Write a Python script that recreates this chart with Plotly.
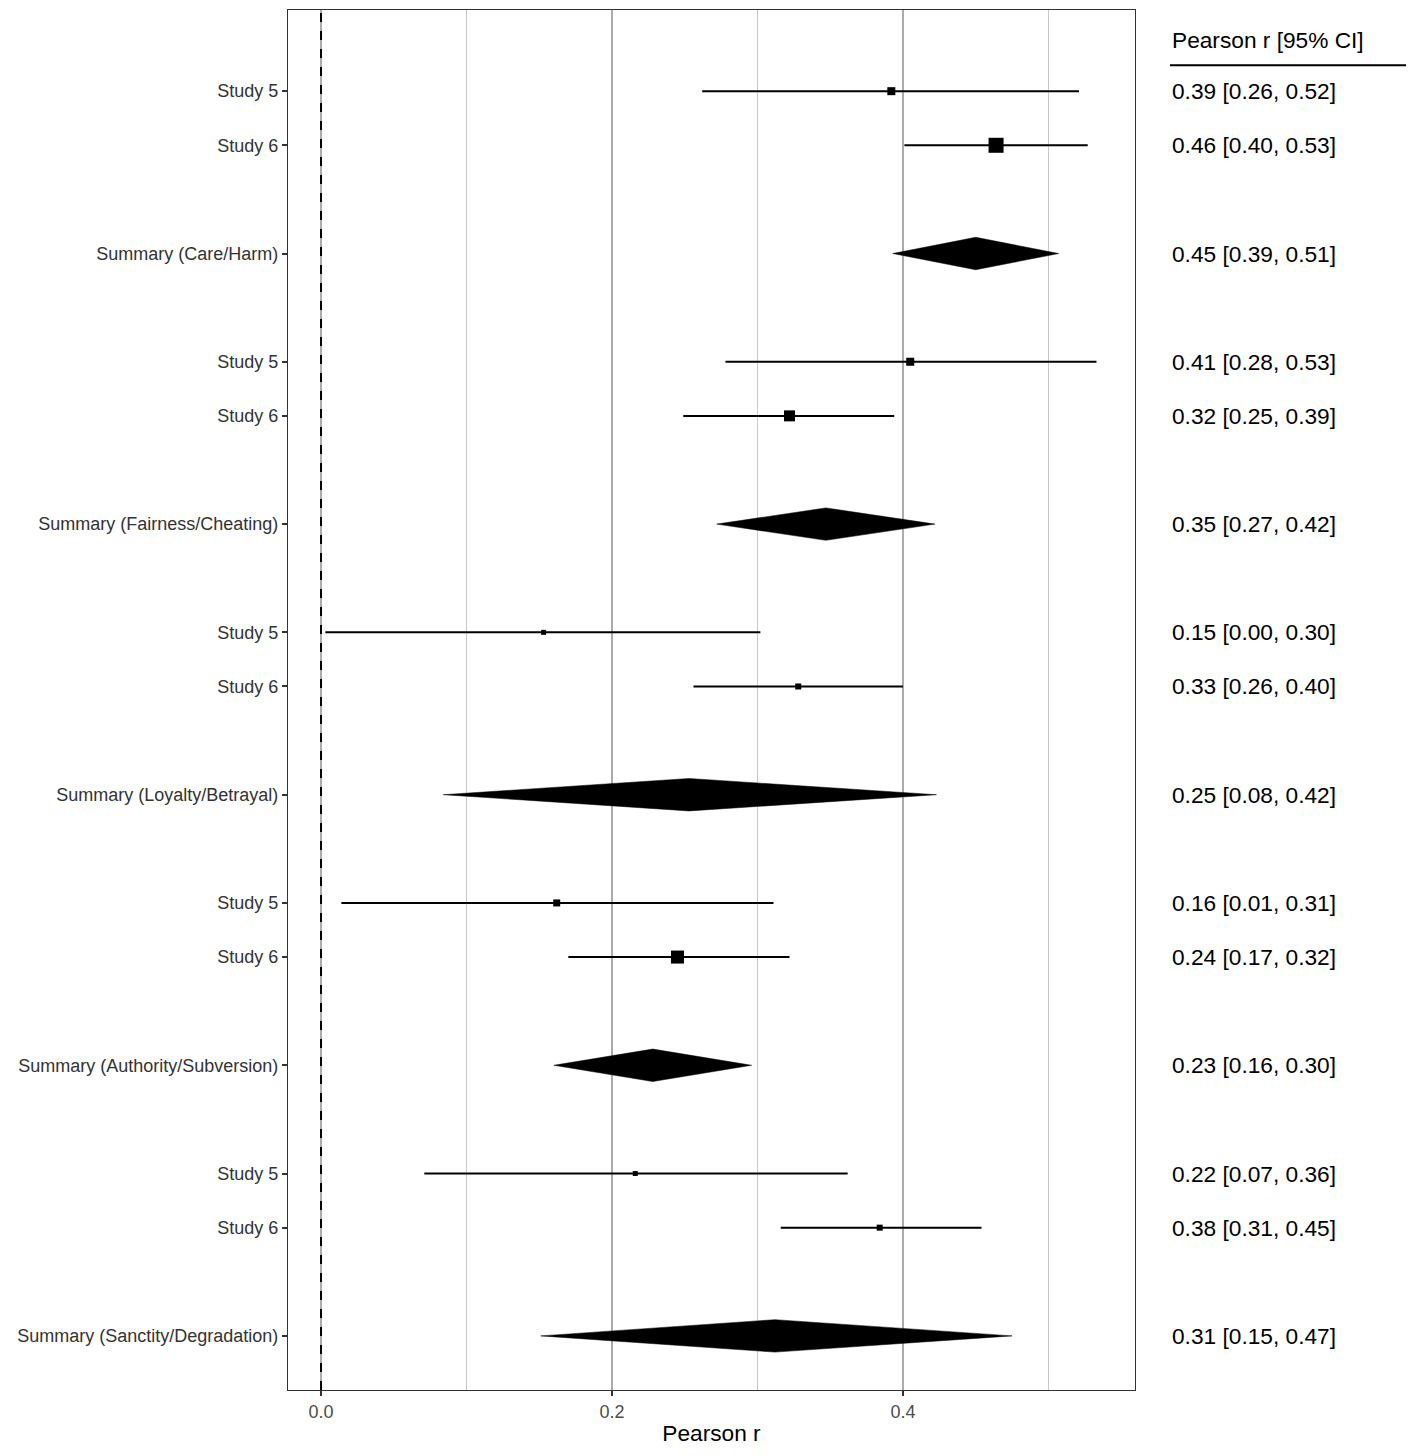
import plotly.graph_objects as go

# study-level rows
study_labels = ["Study 5", "Study 6"] * 5
study_pos = [0, 1, 5, 6, 10, 11, 15, 16, 20, 21]
study_r = [0.392, 0.464, 0.405, 0.322, 0.153, 0.328, 0.162, 0.245, 0.216, 0.384]
study_lo = [0.262, 0.401, 0.278, 0.249, 0.003, 0.256, 0.014, 0.170, 0.071, 0.316]
study_hi = [0.521, 0.527, 0.533, 0.394, 0.302, 0.400, 0.311, 0.322, 0.362, 0.454]
study_size = [8, 15, 8, 11, 5, 6, 7, 13, 5, 6]
study_text = ["0.39 [0.26, 0.52]", "0.46 [0.40, 0.53]", "0.41 [0.28, 0.53]",
              "0.32 [0.25, 0.39]", "0.15 [0.00, 0.30]", "0.33 [0.26, 0.40]",
              "0.16 [0.01, 0.31]", "0.24 [0.17, 0.32]", "0.22 [0.07, 0.36]",
              "0.38 [0.31, 0.45]"]

# summary rows
summary_labels = ["Summary (Care/Harm)", "Summary (Fairness/Cheating)",
                  "Summary (Loyalty/Betrayal)", "Summary (Authority/Subversion)",
                  "Summary (Sanctity/Degradation)"]
summary_pos = [3, 8, 13, 18, 23]
summary_r = [0.450, 0.347, 0.253, 0.228, 0.312]
summary_lo = [0.393, 0.272, 0.084, 0.160, 0.151]
summary_hi = [0.507, 0.422, 0.423, 0.296, 0.475]
summary_text = ["0.45 [0.39, 0.51]", "0.35 [0.27, 0.42]", "0.25 [0.08, 0.42]",
                "0.23 [0.16, 0.30]", "0.31 [0.15, 0.47]"]

FONT = "Liberation Sans, Arial, sans-serif"
fig = go.Figure()

# summary diamonds
h = 0.3
for pos, r, lo, hi in zip(summary_pos, summary_r, summary_lo, summary_hi):
    fig.add_trace(go.Scatter(
        x=[lo, r, hi, r, lo], y=[pos, pos - h, pos, pos + h, pos],
        mode="lines", fill="toself", fillcolor="black",
        line=dict(color="black", width=0.5), showlegend=False, hoverinfo="skip"
    ))

# study estimates with CI
fig.add_trace(go.Scatter(
    x=study_r, y=study_pos, mode="markers",
    marker=dict(symbol="square", size=study_size, color="black",
                opacity=1, line=dict(width=0)),
    error_x=dict(type="data", symmetric=False,
                 array=[hi - r for r, hi in zip(study_r, study_hi)],
                 arrayminus=[r - lo for r, lo in zip(study_r, study_lo)],
                 color="black", thickness=2, width=0),
    showlegend=False
))

# zero reference line
fig.add_shape(type="line", x0=0, x1=0, y0=0, y1=1, xref="x", yref="paper",
              line=dict(color="black", width=2, dash="dash"))

# right-hand text column
for pos, txt in zip(study_pos + summary_pos, study_text + summary_text):
    fig.add_annotation(x=1.0413, y=pos, xref="paper", yref="y", text=txt,
                       showarrow=False, xanchor="left",
                       font=dict(family=FONT, size=22.7, color="black"))
fig.add_annotation(x=1.0413, y=-0.95, xref="paper", yref="y",
                   text="Pearson r [95% CI]", showarrow=False, xanchor="left",
                   font=dict(family=FONT, size=22.7, color="black"))
fig.add_shape(type="line", x0=1.0413, x1=1.32, y0=-0.48, y1=-0.48,
              xref="paper", yref="y", line=dict(color="black", width=2))

fig.update_xaxes(
    range=[-0.0227, 0.5595], tickvals=[0, 0.2, 0.4], ticktext=["0.0", "0.2", "0.4"],
    showgrid=True, gridcolor="#ababab", gridwidth=1.5,
    minor=dict(tickvals=[0.1, 0.3, 0.5], showgrid=True, gridcolor="#c9c9c9", gridwidth=1.2),
    ticks="outside", ticklen=5, tickcolor="#333333", tickwidth=1.5,
    tickfont=dict(family=FONT, size=18, color="#4d4d4d"),
    title=dict(text="Pearson r", font=dict(family=FONT, size=22.7, color="black"), standoff=4),
    showline=True, linecolor="#333333", linewidth=1.2, mirror=True, zeroline=False
)
fig.update_yaxes(
    range=[24, -1.5], tickvals=study_pos + summary_pos,
    ticktext=study_labels + summary_labels,
    showgrid=False, zeroline=False,
    ticks="outside", ticklen=5, tickcolor="#333333", tickwidth=1.5,
    tickfont=dict(family=FONT, size=18, color="#333333"),
    showline=True, linecolor="#333333", linewidth=1.2, mirror=True
)

# page has an 8px body margin, so the figure is shrunk and shifted to compensate
fig.update_layout(
    width=1409, height=1447,
    margin=dict(l=280, r=282, t=2, b=65),
    plot_bgcolor="white", paper_bgcolor="white",
    font=dict(family=FONT)
)

fig.write_html("out.html")
